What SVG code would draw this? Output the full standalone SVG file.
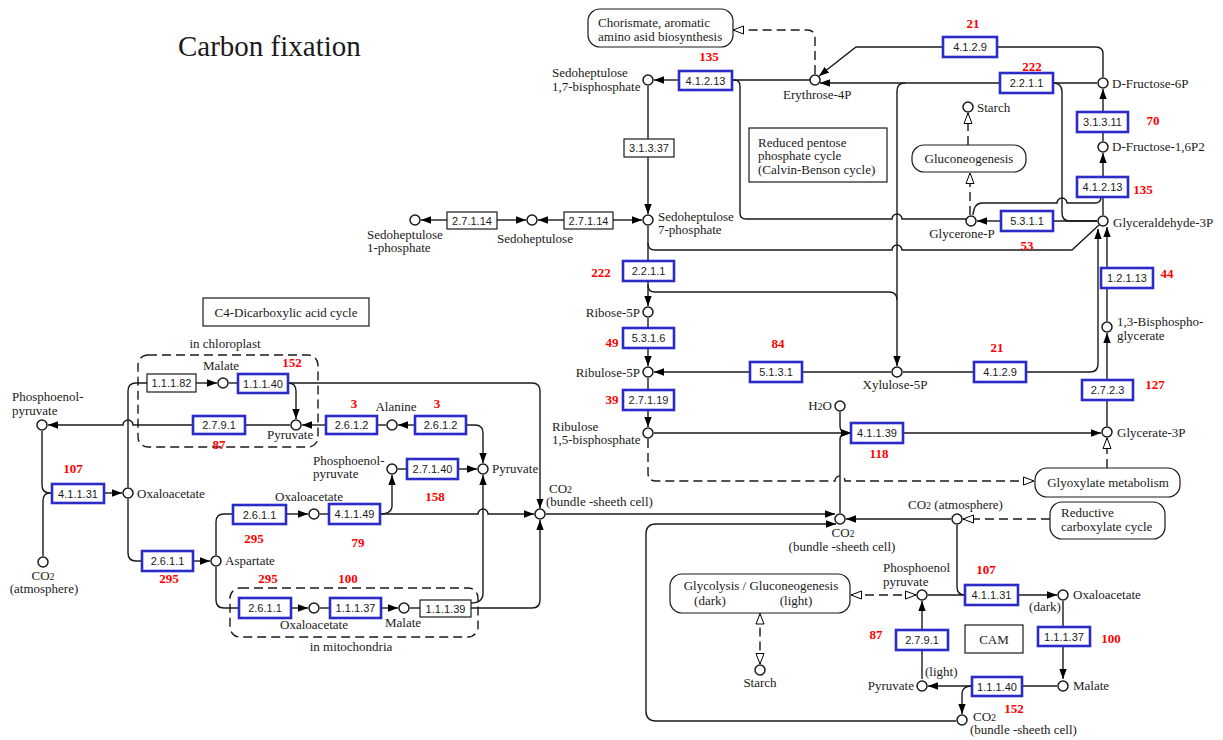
<svg xmlns="http://www.w3.org/2000/svg" width="1223" height="740" viewBox="0 0 1223 740">
<defs>
<marker id="af" markerUnits="userSpaceOnUse" markerWidth="11" markerHeight="9" refX="10" refY="4" orient="auto"><path d="M0,0.3 L10,4 L0,7.7 Z" fill="#000"/></marker>
<marker id="ao" markerUnits="userSpaceOnUse" markerWidth="13" markerHeight="11" refX="11.5" refY="5" orient="auto-start-reverse"><path d="M1,1 L11.5,5 L1,9 Z" fill="#fff" stroke="#000" stroke-width="1" stroke-dasharray="none"/></marker>
<style>
.ln{fill:none;stroke:#1a1a1a;stroke-width:1.4}
.dl{fill:none;stroke:#1a1a1a;stroke-width:1.4;stroke-dasharray:9,5}
.ec rect{fill:#fff;stroke:#2b2bc8;stroke-width:2.6}
.pb rect{fill:#fff;stroke:#1a1a1a;stroke-width:1.2}
.cp circle{fill:#fff;stroke:#1a1a1a;stroke-width:1.5}
text{font-family:"Liberation Serif","Times New Roman",serif;font-size:13px;fill:#1a1a1a}
.e{font-family:"Liberation Sans",Arial,sans-serif;font-size:11px;text-anchor:middle}
.r{font-weight:bold;fill:#ff0000;text-anchor:middle}
.m{text-anchor:middle}
.en{text-anchor:end}
.s{font-size:10px}
</style>
</defs>
<rect width="1223" height="740" fill="#fff"/>
<text x="178" y="56" style="font-size:29px">Carbon fixation</text>

<g id="compartments">
<rect class="dl" x="138" y="355" width="180" height="92" rx="10"/>
<rect class="dl" x="230" y="588" width="248" height="49" rx="10"/>
<text class="m" x="225" y="348">in chloroplast</text>
<text class="m" x="351" y="651">in mitochondria</text>
</g>

<g id="connectors">
<path class="ln" d="M679,80 H654" marker-end="url(#af)"/>
<path class="ln" d="M732,80 H810"/>
<path class="ln" d="M732,80 H734 Q740,80 740,86 V213 Q740,219 746,219 H892 A5,5 0 0 1 902,219 H966"/>
<path class="ln" d="M943,47 H856 L819,76" marker-end="url(#af)"/>
<path class="ln" d="M997,47 H1096 Q1103,47 1103,54 V77"/>
<path class="ln" d="M1000,83 H820" marker-end="url(#af)"/>
<path class="ln" d="M905,83 Q897,83 897,91 V366" marker-end="url(#af)"/>
<path class="ln" d="M1053,83 H1097"/>
<path class="ln" d="M1053,83 Q1062,83 1062,92 V213 Q1062,221 1070,221 H1097"/>
<path class="ln" d="M1103,112 V89" marker-end="url(#af)"/>
<path class="ln" d="M1103,141 V132"/>
<path class="ln" d="M1103,177 V153" marker-end="url(#af)"/>
<path class="ln" d="M1103,215 V197"/>
<path class="ln" d="M1101,197 Q1101,203 1095,203 H1067 A5,5 0 0 0 1057,203 H982 Q974,203 973,215"/>
<path class="ln" d="M1001,221 H977" marker-end="url(#af)"/>
<path class="ln" d="M1053,221 H1097"/>
<path class="dl" d="M970,215 V173" marker-end="url(#ao)"/>
<path class="dl" d="M968,145 V113" marker-end="url(#ao)"/>
<path class="dl" d="M815,74 V38 Q815,30 807,30 H733" marker-end="url(#ao)"/>
<path class="ln" d="M648,86 V139"/>
<path class="ln" d="M648,157 V214" marker-end="url(#af)"/>
<path class="ln" d="M613,220 H642" marker-end="url(#af)"/>
<path class="ln" d="M564,220 H538" marker-end="url(#af)"/>
<path class="ln" d="M497,220 H526" marker-end="url(#af)"/>
<path class="ln" d="M447,220 H421" marker-end="url(#af)"/>
<path class="ln" d="M648,226 V261"/>
<path class="ln" d="M648,243 Q648,250 655,250 H892 A5,5 0 0 1 902,250 H1072 L1099,225"/>
<path class="ln" d="M648,281 V306" marker-end="url(#af)"/>
<path class="ln" d="M648,285 Q648,292 655,292 H889 Q897,292 897,300"/>
<path class="ln" d="M648,318 V328"/>
<path class="ln" d="M648,348 V366" marker-end="url(#af)"/>
<path class="ln" d="M750,372 H654" marker-end="url(#af)"/>
<path class="ln" d="M891,372 H802"/>
<path class="ln" d="M903,372 H974"/>
<path class="ln" d="M1026,372 H1090 Q1098,372 1098,364 V229" marker-end="url(#af)"/>
<path class="ln" d="M1107,321 V288"/>
<path class="ln" d="M1107,268 V227" marker-end="url(#af)"/>
<path class="ln" d="M1107,380 V333" marker-end="url(#af)"/>
<path class="ln" d="M1107,426 V400"/>
<path class="ln" d="M648,378 V390"/>
<path class="ln" d="M648,410 V427" marker-end="url(#af)"/>
<path class="ln" d="M654,433 H851"/>
<path class="ln" d="M840,412 V426 Q840,433 847,433 H851" marker-end="url(#af)"/>
<path class="ln" d="M840,513 V440 Q840,433 847,433 H851" marker-end="url(#af)"/>
<path class="ln" d="M903,433 H1101" marker-end="url(#af)"/>
<path class="dl" d="M648,439 V473 Q648,481 656,481 H835 A5,5 0 0 1 845,481 H1034" marker-end="url(#ao)"/>
<path class="dl" d="M1107,468 V438" marker-end="url(#ao)"/>
<path class="ln" d="M951,519 H846" marker-end="url(#af)"/>
<path class="dl" d="M1050,519 H963" marker-end="url(#ao)"/>
<path class="ln" d="M957,525 V587 Q957,595 965,595"/>
<path class="ln" d="M928,595 H965"/>
<path class="ln" d="M1018,595 H1057" marker-end="url(#af)"/>
<path class="ln" d="M1063,601 V627"/>
<path class="ln" d="M1063,646 V679" marker-end="url(#af)"/>
<path class="ln" d="M1057,686 H1022"/>
<path class="ln" d="M972,686 H928" marker-end="url(#af)"/>
<path class="ln" d="M972,686 Q962,686 962,694 V714" marker-end="url(#af)"/>
<path class="ln" d="M922,679 V650"/>
<path class="ln" d="M922,630 V601" marker-end="url(#af)"/>
<path class="dl" d="M916,595 H851" marker-start="url(#ao)" marker-end="url(#ao)"/>
<path class="dl" d="M760,613.5 V664" marker-start="url(#ao)" marker-end="url(#ao)"/>
<path class="ln" d="M956,721 H656 Q646,721 646,711 V534 Q646,524 656,524 H836" marker-end="url(#af)"/>
<path class="ln" d="M546,514 H835" marker-end="url(#af)"/>
<path class="ln" d="M42,431 V485 Q42,493 50,493 H52"/>
<path class="ln" d="M43,556 V501 Q43,493 50,493"/>
<path class="ln" d="M104,493 H122" marker-end="url(#af)"/>
<path class="ln" d="M196,383 H217" marker-end="url(#af)"/>
<path class="ln" d="M147,383 H136 Q128,383 128,391 V487"/>
<path class="ln" d="M229,383 H238"/>
<path class="ln" d="M288,383 H532 Q540,383 540,391 V508.5" marker-end="url(#af)"/>
<path class="ln" d="M288,383 Q296,383 296,391 V419" marker-end="url(#af)"/>
<path class="ln" d="M290,425 H245"/>
<path class="ln" d="M193,425 H133 A5,5 0 0 0 123,425 H48" marker-end="url(#af)"/>
<path class="ln" d="M326,425 H302" marker-end="url(#af)"/>
<path class="ln" d="M386,425 H377"/>
<path class="ln" d="M415,425 H398" marker-end="url(#af)"/>
<path class="ln" d="M466,425 H475 Q483,425 483,433 V463" marker-end="url(#af)"/>
<path class="ln" d="M398,469 H407"/>
<path class="ln" d="M458,469 H477" marker-end="url(#af)"/>
<path class="ln" d="M320,514 H329"/>
<path class="ln" d="M380,514 H478 A5,5 0 0 1 488,514 H534" marker-end="url(#af)"/>
<path class="ln" d="M380,514 Q392,514 392,506 V475" marker-end="url(#af)"/>
<path class="ln" d="M216,555 V522 Q216,514 224,514 H233"/>
<path class="ln" d="M286,514 H308" marker-end="url(#af)"/>
<path class="ln" d="M128,499 V553 Q128,561 136,561 H142"/>
<path class="ln" d="M193,561 H210" marker-end="url(#af)"/>
<path class="ln" d="M216,567 V600 Q216,608 224,608 H239"/>
<path class="ln" d="M291,608 H308" marker-end="url(#af)"/>
<path class="ln" d="M320,608 H330"/>
<path class="ln" d="M381,608 H398" marker-end="url(#af)"/>
<path class="ln" d="M410,608 H420"/>
<path class="ln" d="M471,608 H532 Q540,608 540,600 V520" marker-end="url(#af)"/>
<path class="ln" d="M471,603 Q483,603 483,593 V475" marker-end="url(#af)"/>
</g>

<g id="map_chorismate"><rect x="588" y="9" width="145" height="38" rx="12" fill="#fff" stroke="#1a1a1a" stroke-width="1.2"/><text x="598" y="27">Chorismate, aromatic</text><text x="598" y="41">amino asid biosynthesis</text></g>
<g id="info_calvin" class="pb"><rect x="749" y="128" width="138" height="54"/><text x="758" y="147">Reduced pentose</text><text x="758" y="160">phosphate cycle</text><text x="758" y="174">(Calvin-Benson cycle)</text></g>
<g id="map_gluconeogenesis"><rect x="912" y="145" width="114" height="27" rx="12" fill="#fff" stroke="#1a1a1a" stroke-width="1.2"/><text class="m" x="969" y="163">Gluconeogenesis</text></g>
<g id="map_glyoxylate"><rect x="1035" y="468" width="145" height="29" rx="12" fill="#fff" stroke="#1a1a1a" stroke-width="1.2"/><text class="m" x="1108" y="487">Glyoxylate metabolism</text></g>
<g id="map_reductive"><rect x="1050" y="502" width="115" height="37" rx="12" fill="#fff" stroke="#1a1a1a" stroke-width="1.2"/><text x="1061" y="517">Reductive</text><text x="1061" y="531">carboxylate cycle</text></g>
<g id="map_glycolysis"><rect x="670" y="574" width="180" height="39" rx="12" fill="#fff" stroke="#1a1a1a" stroke-width="1.2"/><text class="m" x="761" y="590">Glycolysis / Gluconeogenesis</text><text class="m" x="710" y="605">(dark)</text><text class="m" x="796" y="605">(light)</text></g>
<g id="info_cam" class="pb"><rect x="965" y="625" width="58" height="28"/><text class="m" x="994" y="644">CAM</text></g>
<g id="info_c4" class="pb"><rect x="203" y="298" width="166" height="28"/><text class="m" x="286" y="317">C4-Dicarboxylic acid cycle</text></g>

<g id="ec_4_1_2_13_a" class="ec"><rect x="679" y="71" width="53" height="19"/><text class="e" x="705.5" y="84.5">4.1.2.13</text><text class="r" x="709" y="61">135</text></g>
<g id="ec_4_1_2_9_a" class="ec"><rect x="943" y="37" width="54" height="20"/><text class="e" x="970" y="51">4.1.2.9</text><text class="r" x="973" y="28">21</text></g>
<g id="ec_2_2_1_1_a" class="ec"><rect x="1000" y="73" width="53" height="20"/><text class="e" x="1026.5" y="87">2.2.1.1</text><text class="r" x="1032" y="71">222</text></g>
<g id="ec_3_1_3_11" class="ec"><rect x="1077" y="112" width="51" height="20"/><text class="e" x="1102.5" y="126">3.1.3.11</text><text class="r" x="1153" y="125">70</text></g>
<g id="ec_4_1_2_13_b" class="ec"><rect x="1077" y="177" width="51" height="20"/><text class="e" x="1102.5" y="191">4.1.2.13</text><text class="r" x="1143" y="194">135</text></g>
<g id="ec_5_3_1_1" class="ec"><rect x="1001" y="211" width="52" height="20"/><text class="e" x="1027" y="225">5.3.1.1</text><text class="r" x="1027" y="250">53</text></g>
<g id="ec_3_1_3_37" class="pb"><rect x="624" y="139" width="50" height="18"/><text class="e" x="649" y="152">3.1.3.37</text></g>
<g id="ec_2_7_1_14_a" class="pb"><rect x="447" y="212" width="50" height="17"/><text class="e" x="472" y="224.5">2.7.1.14</text></g>
<g id="ec_2_7_1_14_b" class="pb"><rect x="564" y="212" width="49" height="17"/><text class="e" x="588.5" y="224.5">2.7.1.14</text></g>
<g id="ec_2_2_1_1_b" class="ec"><rect x="623" y="261" width="51" height="20"/><text class="e" x="648.5" y="275">2.2.1.1</text><text class="r" x="601" y="277">222</text></g>
<g id="ec_5_3_1_6" class="ec"><rect x="623" y="328" width="51" height="20"/><text class="e" x="648.5" y="342">5.3.1.6</text><text class="r" x="612" y="347">49</text></g>
<g id="ec_5_1_3_1" class="ec"><rect x="750" y="362" width="52" height="20"/><text class="e" x="776" y="376">5.1.3.1</text><text class="r" x="778" y="348">84</text></g>
<g id="ec_4_1_2_9_b" class="ec"><rect x="974" y="362" width="52" height="20"/><text class="e" x="1000" y="376">4.1.2.9</text><text class="r" x="997" y="352">21</text></g>
<g id="ec_1_2_1_13" class="ec"><rect x="1101" y="268" width="52" height="20"/><text class="e" x="1127" y="282">1.2.1.13</text><text class="r" x="1167" y="278">44</text></g>
<g id="ec_2_7_1_19" class="ec"><rect x="623" y="390" width="51" height="20"/><text class="e" x="648.5" y="404">2.7.1.19</text><text class="r" x="612" y="404">39</text></g>
<g id="ec_4_1_1_39" class="ec"><rect x="851" y="423" width="52" height="20"/><text class="e" x="877" y="437">4.1.1.39</text><text class="r" x="879" y="458">118</text></g>
<g id="ec_2_7_2_3" class="ec"><rect x="1082" y="380" width="51" height="20"/><text class="e" x="1107.5" y="394">2.7.2.3</text><text class="r" x="1155" y="389">127</text></g>
<g id="ec_4_1_1_31_cam" class="ec"><rect x="965" y="585" width="53" height="20"/><text class="e" x="991.5" y="599">4.1.1.31</text><text class="r" x="986" y="574">107</text></g>
<g id="ec_2_7_9_1_cam" class="ec"><rect x="896" y="630" width="52" height="20"/><text class="e" x="922" y="644">2.7.9.1</text><text class="r" x="876" y="639">87</text></g>
<g id="ec_1_1_1_37_cam" class="ec"><rect x="1038" y="627" width="52" height="19"/><text class="e" x="1064" y="640.5">1.1.1.37</text><text class="r" x="1111" y="643">100</text></g>
<g id="ec_1_1_1_40_cam" class="ec"><rect x="972" y="677" width="50" height="19"/><text class="e" x="997" y="690.5">1.1.1.40</text><text class="r" x="1014" y="713">152</text></g>
<g id="ec_1_1_1_82" class="pb"><rect x="147" y="374" width="49" height="18"/><text class="e" x="171.5" y="387">1.1.1.82</text></g>
<g id="ec_1_1_1_40_ch" class="ec"><rect x="238" y="374" width="50" height="19"/><text class="e" x="263" y="387.5">1.1.1.40</text><text class="r" x="292" y="367">152</text></g>
<g id="ec_2_7_9_1_ch" class="ec"><rect x="193" y="416" width="52" height="18"/><text class="e" x="219" y="429">2.7.9.1</text><text class="r" x="219" y="449">87</text></g>
<g id="ec_2_6_1_2_a" class="ec"><rect x="326" y="416" width="51" height="18"/><text class="e" x="351.5" y="429">2.6.1.2</text><text class="r" x="354" y="408">3</text></g>
<g id="ec_2_6_1_2_b" class="ec"><rect x="415" y="416" width="51" height="18"/><text class="e" x="440.5" y="429">2.6.1.2</text><text class="r" x="437" y="408">3</text></g>
<g id="ec_2_7_1_40" class="ec"><rect x="407" y="459" width="51" height="20"/><text class="e" x="432.5" y="473">2.7.1.40</text><text class="r" x="435" y="501">158</text></g>
<g id="ec_4_1_1_31_c4" class="ec"><rect x="52" y="484" width="52" height="19"/><text class="e" x="78" y="497.5">4.1.1.31</text><text class="r" x="73" y="473">107</text></g>
<g id="ec_2_6_1_1_u" class="ec"><rect x="233" y="505" width="53" height="19"/><text class="e" x="259.5" y="518.5">2.6.1.1</text><text class="r" x="254" y="543">295</text></g>
<g id="ec_4_1_1_49" class="ec"><rect x="329" y="504" width="51" height="20"/><text class="e" x="354.5" y="518">4.1.1.49</text><text class="r" x="358" y="547">79</text></g>
<g id="ec_2_6_1_1_l" class="ec"><rect x="142" y="551" width="51" height="20"/><text class="e" x="167.5" y="565">2.6.1.1</text><text class="r" x="169" y="583">295</text></g>
<g id="ec_2_6_1_1_m" class="ec"><rect x="239" y="598" width="52" height="20"/><text class="e" x="265" y="612">2.6.1.1</text><text class="r" x="268" y="583">295</text></g>
<g id="ec_1_1_1_37_m" class="ec"><rect x="330" y="598" width="51" height="20"/><text class="e" x="355.5" y="612">1.1.1.37</text><text class="r" x="348" y="583">100</text></g>
<g id="ec_1_1_1_39_m" class="pb"><rect x="420" y="600" width="51" height="17"/><text class="e" x="445.5" y="612.5">1.1.1.39</text></g>

<g id="c_s17bp" class="cp"><circle cx="648" cy="80" r="5"/><text x="552" y="77">Sedoheptulose</text><text x="552" y="91">1,7-bisphosphate</text></g>
<g id="c_e4p" class="cp"><circle cx="815" cy="80" r="5"/><text x="783" y="99">Erythrose-4P</text></g>
<g id="c_f6p" class="cp"><circle cx="1103" cy="83" r="5"/><text x="1112" y="88">D-Fructose-6P</text></g>
<g id="c_f16p2" class="cp"><circle cx="1103" cy="147" r="5"/><text x="1112" y="151">D-Fructose-1,6P2</text></g>
<g id="c_starch1" class="cp"><circle cx="968" cy="107" r="5"/><text x="977" y="112">Starch</text></g>
<g id="c_glycerone" class="cp"><circle cx="971" cy="221" r="5"/><text class="m" x="962" y="238">Glycerone-P</text></g>
<g id="c_g3p" class="cp"><circle cx="1103" cy="221" r="5"/><text x="1113" y="227">Glyceraldehyde-3P</text></g>
<g id="c_s7p" class="cp"><circle cx="648" cy="220" r="5"/><text x="658" y="221">Sedoheptulose</text><text x="658" y="234">7-phosphate</text></g>
<g id="c_sedo" class="cp"><circle cx="532" cy="220" r="5"/><text class="m" x="535" y="243">Sedoheptulose</text></g>
<g id="c_s1p" class="cp"><circle cx="415" cy="220" r="5"/><text x="367" y="239">Sedoheptulose</text><text x="367" y="252">1-phosphate</text></g>
<g id="c_r5p" class="cp"><circle cx="648" cy="312" r="5"/><text class="en" x="640" y="317">Ribose-5P</text></g>
<g id="c_ru5p" class="cp"><circle cx="648" cy="372" r="5"/><text class="en" x="640" y="377">Ribulose-5P</text></g>
<g id="c_xu5p" class="cp"><circle cx="897" cy="372" r="5"/><text class="m" x="895" y="389">Xylulose-5P</text></g>
<g id="c_rubp" class="cp"><circle cx="648" cy="433" r="5"/><text x="552" y="431">Ribulose</text><text x="552" y="444">1,5-bisphosphate</text></g>
<g id="c_h2o" class="cp"><circle cx="840" cy="406" r="5"/><text class="en" x="832" y="410">H<tspan class="s">2</tspan>O</text></g>
<g id="c_bpg" class="cp"><circle cx="1107" cy="327" r="5"/><text x="1117" y="326">1,3-Bisphospho-</text><text x="1117" y="340">glycerate</text></g>
<g id="c_3pg" class="cp"><circle cx="1107" cy="432" r="5"/><text x="1117" y="437">Glycerate-3P</text></g>
<g id="c_co2_center" class="cp"><circle cx="840" cy="519" r="5"/><text class="m" x="843" y="537">CO<tspan class="s">2</tspan></text><text class="m" x="842" y="551">(bundle -sheeth cell)</text></g>
<g id="c_co2_atm_cam" class="cp"><circle cx="957" cy="519" r="5"/><text x="908" y="509">CO<tspan class="s">2</tspan> (atmosphere)</text></g>
<g id="c_pep_cam" class="cp"><circle cx="922" cy="595" r="5"/><text x="883" y="572">Phosphoenol</text><text x="883" y="586">pyruvate</text></g>
<g id="c_oaa_cam" class="cp"><circle cx="1063" cy="595" r="5"/><text x="1073" y="599">Oxaloacetate</text><text class="m" x="1045" y="611">(dark)</text></g>
<g id="c_mal_cam" class="cp"><circle cx="1063" cy="686" r="5"/><text x="1073" y="690">Malate</text></g>
<g id="c_pyr_cam" class="cp"><circle cx="922" cy="686" r="5"/><text class="en" x="914" y="690">Pyruvate</text><text x="925" y="676">(light)</text></g>
<g id="c_co2_bs_cam" class="cp"><circle cx="962" cy="720" r="5"/><text x="973" y="721">CO<tspan class="s">2</tspan></text><text x="970" y="734">(bundle -sheeth cell)</text></g>
<g id="c_starch2" class="cp"><circle cx="760" cy="670" r="5"/><text class="m" x="760" y="687">Starch</text></g>
<g id="c_pep_l" class="cp"><circle cx="42" cy="425" r="5"/><text x="12" y="401">Phosphoenol-</text><text x="12" y="415">pyruvate</text></g>
<g id="c_oaa_l" class="cp"><circle cx="128" cy="493" r="5"/><text x="137" y="498">Oxaloacetate</text></g>
<g id="c_co2_atm_l" class="cp"><circle cx="43" cy="562" r="5"/><text class="m" x="43" y="580">CO<tspan class="s">2</tspan></text><text class="m" x="44" y="593">(atmosphere)</text></g>
<g id="c_asp" class="cp"><circle cx="216" cy="561" r="5"/><text x="225" y="565">Aspartate</text></g>
<g id="c_mal_ch" class="cp"><circle cx="223" cy="383" r="5"/><text class="m" x="221" y="370">Malate</text></g>
<g id="c_pyr_ch" class="cp"><circle cx="296" cy="425" r="5"/><text x="267" y="439">Pyruvate</text></g>
<g id="c_ala" class="cp"><circle cx="392" cy="425" r="5"/><text class="m" x="396" y="411">Alanine</text></g>
<g id="c_pep_u" class="cp"><circle cx="392" cy="469" r="5"/><text x="313" y="465">Phosphoenol-</text><text x="313" y="478">pyruvate</text></g>
<g id="c_pyr_u" class="cp"><circle cx="483" cy="469" r="5"/><text x="492" y="473">Pyruvate</text></g>
<g id="c_oaa_u" class="cp"><circle cx="314" cy="514" r="5"/><text class="m" x="309" y="501">Oxaloacetate</text></g>
<g id="c_co2_bs" class="cp"><circle cx="540" cy="514" r="5"/><text x="549" y="493">CO<tspan class="s">2</tspan></text><text x="546" y="506">(bundle -sheeth cell)</text></g>
<g id="c_oaa_m" class="cp"><circle cx="314" cy="608" r="5"/><text class="m" x="314" y="629">Oxaloacetate</text></g>
<g id="c_mal_m" class="cp"><circle cx="404" cy="608" r="5"/><text class="m" x="403" y="627">Malate</text></g>
</svg>
